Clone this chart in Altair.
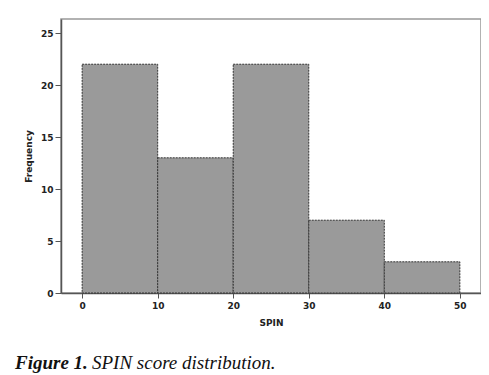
import altair as alt
import pandas as pd

bin_start = [0, 10, 20, 30, 40]
bin_end = [10, 20, 30, 40, 50]
frequency = [22, 13, 22, 7, 3]

caption_bold = ["Figure 1."]
caption_rest = ["SPIN score distribution."]

df = pd.DataFrame({"start": bin_start, "end": bin_end, "freq": frequency})

bars = alt.Chart(df).mark_bar(
    fill="#9a9a9a", stroke="#333333", strokeWidth=1, strokeDash=[2, 1]
).encode(
    x=alt.X("start:Q", scale=alt.Scale(domain=[-2.8, 52.8], nice=False, zero=False),
            axis=alt.Axis(values=[0, 10, 20, 30, 40, 50], title="SPIN", grid=False,
                          domainColor="#555555", domainWidth=1.5, tickColor="#555555",
                          tickSize=5, labelFont="DejaVu Sans", labelFontWeight="bold",
                          labelFontSize=9, labelColor="#222222", labelPadding=3,
                          titleFont="DejaVu Sans", titleFontWeight="bold", titleFontSize=9,
                          titleColor="#222222", titlePadding=8)),
    x2="end:Q",
    y=alt.Y("freq:Q", scale=alt.Scale(domain=[0, 26.35], nice=False),
            axis=alt.Axis(values=[0, 5, 10, 15, 20, 25], title="Frequency", grid=False,
                          domainColor="#555555", domainWidth=1.5, tickColor="#555555",
                          tickSize=6, labelFont="DejaVu Sans", labelFontWeight="bold",
                          labelFontSize=9, labelColor="#222222", labelPadding=2,
                          titleFont="DejaVu Sans", titleFontWeight="bold", titleFontSize=9,
                          titleColor="#222222", titlePadding=7)),
    y2=alt.datum(0),
)

cap1 = alt.Chart(pd.DataFrame({"t": caption_bold})).mark_text(
    font="Liberation Serif", fontStyle="italic", fontWeight="bold", fontSize=19,
    align="left", baseline="alphabetic", color="#111111"
).encode(text="t:N", x=alt.value(-46), y=alt.value(350))

cap2 = alt.Chart(pd.DataFrame({"t": caption_rest})).mark_text(
    font="Liberation Serif", fontStyle="italic", fontSize=19,
    align="left", baseline="alphabetic", color="#111111"
).encode(text="t:N", x=alt.value(31), y=alt.value(350))

chart = alt.layer(bars, cap1, cap2).properties(
    width=420, height=274,
    autosize=alt.AutoSizeParams(type="none"),
    padding={"left": 53, "top": 11, "right": 0, "bottom": 85},
).configure_view(stroke="#999999", strokeWidth=1.5)

chart.save("out.html", embed_options={"renderer": "svg", "actions": False})
